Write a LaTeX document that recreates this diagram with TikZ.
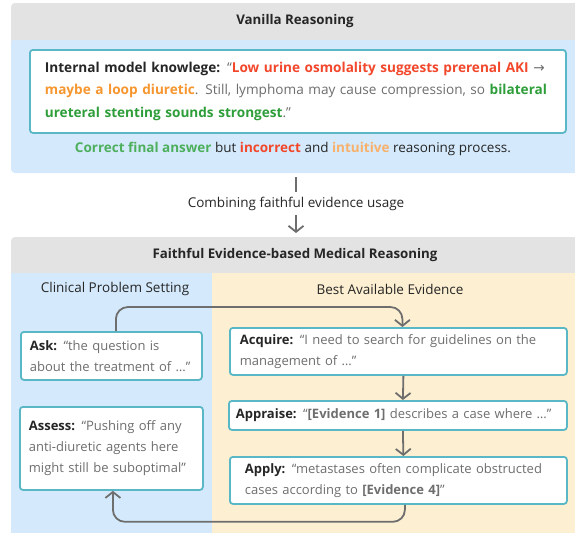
\documentclass[tikz,border=0pt]{standalone}
\usepackage{fontspec}
\setmainfont{Open Sans}
\newfontfamily\symfont{DejaVu Sans}
\usetikzlibrary{arrows.meta}

\definecolor{headgray}{HTML}{E3E3E3}
\definecolor{panelblue}{HTML}{D4EAFC}
\definecolor{panelyellow}{HTML}{FDEFD1}
\definecolor{cardteal}{HTML}{5AB7C6}
\definecolor{quotegray}{HTML}{6E6E6E}
\definecolor{inkdark}{HTML}{262626}
\definecolor{flowgray}{HTML}{6E6E6E}
\definecolor{wrongred}{HTML}{F2472B}
\definecolor{guessorange}{HTML}{F7962F}
\definecolor{rightgreen}{HTML}{2E9E3A}
\definecolor{softgreen}{HTML}{4DAF5C}
\definecolor{softorange}{HTML}{F8B06A}

\newcommand{\lbl}[1]{\textbf{\color{inkdark}#1}}
\newcommand{\ev}[1]{\textbf{#1}}
\newcommand{\oneline}[1]{\mbox{#1}}

\tikzset{
    txt/.style={font=\fontsize{13.5}{21.5}\selectfont, text=inkdark, inner sep=2pt},
    title/.style={txt, font=\fontsize{13.3}{21.5}\selectfont\bfseries},
    card/.style={draw=cardteal, line width=1.8pt, fill=white, rounded corners=3pt,
        anchor=north west, inner ysep=2pt, align=left,
        font=\fontsize{13}{21}\selectfont, text=quotegray},
    flow/.style={draw=flowgray, line width=1.8pt,
        -{Straight Barb[length=6pt, width=15pt, line width=1.8pt]}},
    plain/.style={draw=flowgray, line width=1.8pt}
}

\begin{document}
\begin{tikzpicture}[x=1pt, y=-1pt]

    \useasboundingbox (0, 0) rectangle (575, 533);

    % Panels
    \fill [headgray, rounded corners=4pt] (11, 3) rectangle (579, 45);
    \fill [panelblue, rounded corners=4pt] (11, 39) rectangle (579, 173);
    \fill [headgray] (11, 38) rectangle (579, 40);
    \fill [headgray, rounded corners=4pt] (11, 237) rectangle (579, 280);
    \fill [panelblue] (11, 273) rectangle (212, 533);
    \fill [panelyellow] (212, 273) rectangle (575, 533);

    % Titles
    \node [title] (vhead) at (295, 21) {Vanilla Reasoning};
    \node [title] (fhead) at (295, 255) {Faithful Evidence-based Medical Reasoning};
    \node [txt] (cps) at (115, 289) {Clinical Problem Setting};
    \node [txt] (bae) at (390, 289) {Best Available Evidence};

    % Vanilla card
    \node [card, font=\fontsize{13.6}{22.5}\selectfont, minimum width=536pt, minimum height=83pt,
           inner xsep=15pt, text width=506pt] (vcard) at (29, 49)
        {\oneline{\lbl{Internal model knowlege:} “\textbf{\color{wrongred}Low urine osmolality suggests prerenal AKI} {\symfont →}}\\
         \oneline{\textbf{\color{guessorange}maybe a loop diuretic}. Still, lymphoma may cause compression, so \textbf{\color{rightgreen}bilateral}}\\
         \oneline{\textbf{\color{rightgreen}ureteral stenting sounds strongest}.”}};
    \node [txt] (verdict) at (293, 149)
        {\textbf{\color{softgreen}Correct final answer} but \textbf{\color{wrongred}incorrect} and \textbf{\color{softorange}intuitive} reasoning process.};

    % Combining
    \coordinate (vtop) at (296, 177);
    \coordinate (ftop) at (296, 233);
    \node [txt] (combine) at (296, 204) {Combining faithful evidence usage};
    \draw [plain] (vtop) -- ([yshift=3pt]combine.north);
    \draw [flow] ([yshift=-2pt]combine.south) -- (ftop);

    % Cards
    \node [card, minimum width=181pt, minimum height=48pt, inner xsep=9pt, text width=163pt] (ask) at (20, 331)
        {\oneline{\lbl{Ask:} “the question is}\\ \oneline{about the treatment of …”}};
    \node [card, minimum width=183pt, minimum height=83pt, inner xsep=9pt, text width=165pt] (assess) at (19, 406)
        {\oneline{\lbl{Assess:} “Pushing off any}\\ \oneline{anti-diuretic agents here}\\ \oneline{might still be suboptimal”}};
    \node [card, minimum width=337pt, minimum height=47pt, inner xsep=10pt, text width=317pt] (acquire) at (229, 327)
        {\oneline{\lbl{Acquire:} “I need to search for guidelines on the}\\ \oneline{management of …”}};
    \node [card, minimum width=338pt, minimum height=29pt, inner xsep=7pt, text width=324pt] (appraise) at (228, 400)
        {\oneline{\lbl{Appraise:} “\ev{[Evidence 1]} describes a case where …”}};
    \node [card, minimum width=337pt, minimum height=47pt, inner xsep=15pt, text width=307pt] (apply) at (229, 456)
        {\oneline{\lbl{Apply:} “metastases often complicate obstructed}\\ \oneline{cases according to \ev{[Evidence 4]}”}};

    % Flow
    \draw [flow, rounded corners=12pt] ([xshift=4.5pt]ask.north) -- ++(0, -24) -| ([xshift=4pt]acquire.north);
    \draw [flow] ([xshift=5pt]acquire.south) -- ([xshift=5pt]appraise.north);
    \draw [flow] ([xshift=5pt]appraise.south) -- ([xshift=5pt]apply.north);
    \draw [flow, rounded corners=12pt] ([xshift=6.5pt]apply.south) -- ++(0, 17) -| ([xshift=1.5pt]assess.south);

\end{tikzpicture}
\end{document}
